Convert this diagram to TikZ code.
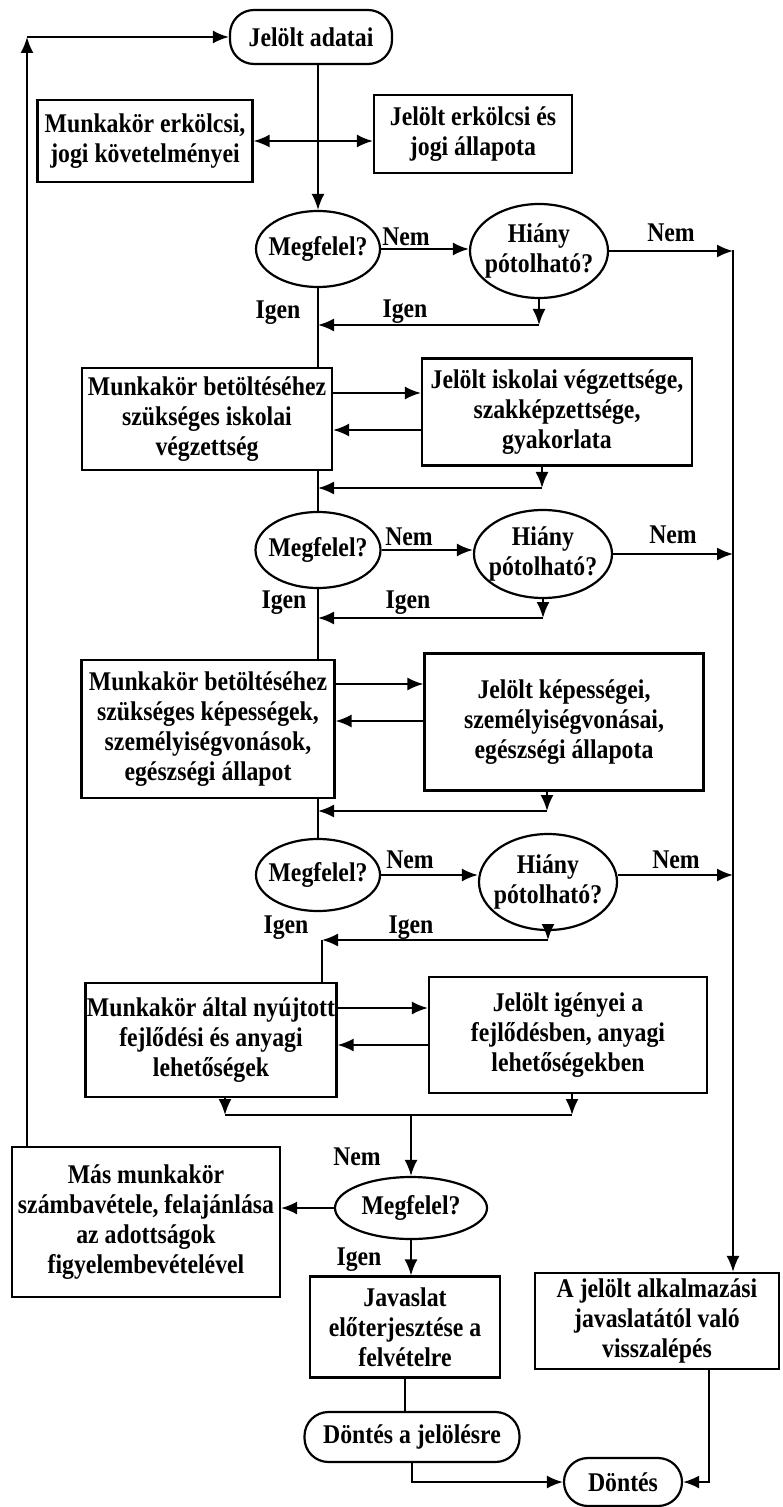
\documentclass[tikz,border=0pt]{standalone}
\usepackage{fontspec}
\setmainfont[FakeStretch=0.88]{Liberation Serif}
\usetikzlibrary{shapes.geometric,arrows.meta,calc}
\begin{document}
\begin{tikzpicture}[x=0.5pt,y=-0.5pt,
  font=\bfseries\fontsize{13.5}{15}\selectfont,
  line width=1pt,
  arr/.style={-{Latex[length=8pt,width=6.5pt]}},
  darr/.style={{Latex[length=8pt,width=6.5pt]}-{Latex[length=8pt,width=6.5pt]}},
  box/.style={draw,line width=1.1pt,rectangle,align=center,inner sep=0pt},
  term/.style={draw,line width=1.1pt,rounded corners=12pt,align=center,inner sep=0pt},
  dec/.style={draw,line width=1.1pt,ellipse,align=center,inner xsep=-3pt,inner ysep=0pt},
  lab/.style={inner sep=0pt}]
\useasboundingbox (0,0) rectangle (782,1507);

% nodes
\node[term,minimum width=81pt,minimum height=27pt] (adat) at (311,37) {Jelölt adatai};
\node[box,minimum width=107.5pt,minimum height=41pt] (erkL) at (145,141) {Munkakör erkölcsi,\\jogi követelményei};
\node[box,minimum width=99pt,minimum height=39pt] (erkR) at (473,134) {Jelölt erkölcsi és\\jogi állapota};
\node[dec,minimum width=62pt,minimum height=38pt] (m1) at (318,249) {Megfelel?};
\node[dec,minimum width=69pt,minimum height=47pt] (h1) at (539,251) {Hiány\\pótolható?};

\node[box,minimum width=125pt,minimum height=51pt] (iskL) at (207,419) {Munkakör betöltéséhez\\szükséges iskolai\\végzettség};
\node[box,minimum width=135pt,minimum height=53.5pt] (iskR) at (557,412) {Jelölt iskolai végzettsége,\\szakképzettsége,\\gyakorlata};
\node[dec,minimum width=62.5pt,minimum height=38pt] (m2) at (318,550) {Megfelel?};
\node[dec,minimum width=69pt,minimum height=44pt] (h2) at (543,554) {Hiány\\pótolható?};

\node[box,minimum width=126.5pt,minimum height=69pt] (kepL) at (208,729) {Munkakör betöltéséhez\\szükséges képességek,\\személyiségvonások,\\egészségi állapot};
\node[box,minimum width=139.5pt,minimum height=68.5pt] (kepR) at (564,722) {Jelölt képességei,\\személyiségvonásai,\\egészségi állapota};
\node[dec,minimum width=62pt,minimum height=36pt] (m3) at (318,875) {Megfelel?};
\node[dec,minimum width=69pt,minimum height=48pt] (h3) at (548,882) {Hiány\\pótolható?};

\node[box,minimum width=125.5pt,minimum height=57pt] (igL) at (211,1040) {Munkakör által nyújtott\\fejlődési és anyagi\\lehetőségek};
\node[box,minimum width=139pt,minimum height=58pt] (igR) at (568,1035) {Jelölt igényei a\\fejlődésben, anyagi\\lehetőségekben};

\node[dec,minimum width=76pt,minimum height=31pt] (m4) at (411,1208) {Megfelel?};
\node[box,minimum width=134pt,minimum height=75pt] (mas) at (146,1222) {Más munkakör\\számbavétele, felajánlása\\az adottságok\\figyelembevételével};
\node[box,minimum width=95pt,minimum height=50.5pt] (jav) at (405,1327) {Javaslat\\előterjesztése a\\felvételre};
\node[box,minimum width=122pt,minimum height=48pt] (vissz) at (657,1321) {A jelölt alkalmazási\\javaslatától való\\visszalépés};
\node[term,minimum width=107.5pt,minimum height=25pt] (djel) at (412,1437) {Döntés a jelölésre};
\node[term,minimum width=59pt,minimum height=24pt] (dont) at (623,1482) {Döntés};

% labels
\node[lab] (n1) at (406,237) {Nem};
\node[lab] (n1r) at (671,233) {Nem};
\node[lab] (i1) at (278,313) {Igen};
\node[lab] (i1r) at (405,312) {Igen};
\node[lab] (n2) at (409,537) {Nem};
\node[lab] (n2r) at (673,535) {Nem};
\node[lab] (i2) at (284,603) {Igen};
\node[lab] (i2r) at (408,603) {Igen};
\node[lab] (n3) at (410,860) {Nem};
\node[lab] (n3r) at (676,860) {Nem};
\node[lab] (i3) at (286,928) {Igen};
\node[lab] (i3r) at (411,928) {Igen};
\node[lab] (n4) at (357,1157) {Nem};
\node[lab] (i4) at (359,1260) {Igen};

% coordinates
\coordinate (lc) at (27,37);
\coordinate (rc) at (733,250);
\coordinate (j1) at (540,325);
\coordinate (j2) at (542,488);
\coordinate (j3) at (545,618);
\coordinate (j4) at (547,811);
\coordinate (k5) at (322,940);
\coordinate (j6l) at (225,1115);
\coordinate (j6r) at (572,1115);

% top
\draw[arr] (m1 |- adat.south) -- (m1.north);
\draw[darr] (erkL.east) -- (erkL.east -| erkR.west);
\draw[arr] (mas.north -| lc) -- (lc);
\draw[arr] (lc) -- (adat.west);

% block 1
\draw[arr] (m1.east) -- (m1.east -| h1.west);
\draw[arr] (h1.east) -- (h1.east -| rc);
\draw[arr] (rc) -- (rc |- vissz.north);
\draw[arr] (h1.south) -- (h1.south |- j1);
\draw[arr] (h1.south |- j1) -- (j1 -| m1);
\draw (m1.south) -- (m1.south |- iskL.north);

% block 2
\draw[arr] ($(iskL.east |- 0,393)$) -- ($(iskR.west |- 0,393)$);
\draw[arr] ($(iskR.west |- 0,430)$) -- ($(iskL.east |- 0,430)$);
\draw[arr] (iskR.south -| j2) -- (j2);
\draw[arr] (j2) -- (j2 -| m1);
\draw (m1 |- iskL.south) -- (m2.north);
\draw[arr] (m2.east) -- (m2.east -| h2.west);
\draw[arr] (h2.east) -- (h2.east -| rc);
\draw[arr] (h2.south) -- (h2.south |- j3);
\draw[arr] (h2.south |- j3) -- (j3 -| m2);
\draw (m2.south) -- (m2.south |- kepL.north);

% block 3
\draw[arr] ($(kepL.east |- 0,684)$) -- ($(kepR.west |- 0,684)$);
\draw[arr] ($(kepR.west |- 0,721)$) -- ($(kepL.east |- 0,721)$);
\draw[arr] (kepR.south -| j4) -- (j4);
\draw[arr] (j4) -- (j4 -| m2);
\draw (m2 |- kepL.south) -- (m3.north);
\draw[arr] (m3.east) -- (m3.east -| h3.west);
\draw[arr] (m3.east -| h3.east) -- (m3.east -| rc);
\draw[arr] (h3.south) -- (h3.south |- k5);
\draw[arr] (h3.south |- k5) -- (k5);
\draw (k5) -- (k5 |- igL.north);

% block 4
\draw[arr] ($(igL.east |- 0,1008)$) -- ($(igR.west |- 0,1008)$);
\draw[arr] ($(igR.west |- 0,1045)$) -- ($(igL.east |- 0,1045)$);
\draw[arr] (igL.south -| j6l) -- (j6l);
\draw[arr] (igR.south -| j6r) -- (j6r);
\draw (j6l) -- (j6r);
\draw[arr] (m4.north |- j6l) -- (m4.north);

% bottom
\draw[arr] (m4.west) -- (m4.west -| mas.east);
\draw[arr] (m4.south) -- (m4.south |- jav.north);
\draw (jav.south) -- (jav.south |- djel.north);
\draw[arr] (djel.south) |- (dont.west);
\draw[arr] ([xshift=26pt]vissz.south) |- (dont.east);
\end{tikzpicture}
\end{document}
